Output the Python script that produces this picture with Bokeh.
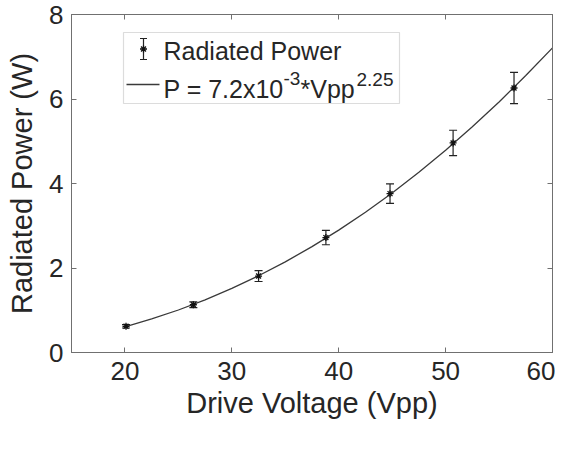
from bokeh.plotting import figure
from bokeh.models import (ColumnDataSource, Whisker, TeeHead, LinearAxis, FixedTicker,
                          Range1d, BoxAnnotation)
from bokeh.core.properties import value
from bokeh.embed import file_html
from bokeh.resources import INLINE

# ---- data ----
voltage = [20.1, 26.4, 32.5, 38.8, 44.8, 50.7, 56.4]
power = [0.62, 1.13, 1.81, 2.72, 3.76, 4.96, 6.26]
power_err = [0.04, 0.07, 0.13, 0.17, 0.23, 0.30, 0.37]

fit_v = [20, 22.5, 25, 27.5, 30, 32.5, 35, 37.5, 40, 42.5, 45, 47.5, 50, 52.5, 55, 57.5, 60]
fit_p = [0.609, 0.794, 1.006, 1.247, 1.517, 1.816, 2.146, 2.506, 2.897, 3.321,
         3.776, 4.265, 4.786, 5.342, 5.931, 6.555, 7.209]

x_ticks = [20, 30, 40, 50, 60]
y_ticks = [0, 2, 4, 6, 8]
x_label = "Drive Voltage (Vpp)"
y_label = "Radiated Power (W)"
legend_series = "Radiated Power"
legend_fit_parts = ["P = 7.2x10", "-3", "*Vpp", "2.25"]

X0, X1, Y0, Y1 = 15, 60, 0, 8
FONT = "Liberation Sans"
AXIS_COLOR = "#707070"
TEXT_COLOR = "#262626"

# frame geometry in figure pixels
W, H = 555, 435
BL, BR, BT, BB = 71, 3, 14, 83
FL, FR, FT, FB = BL, W - BR, BT, H - BB


def to_x(px):
    return X0 + (px - FL) * (X1 - X0) / (FR - FL)


def to_y(py):
    return Y1 - (py - FT) * (Y1 - Y0) / (FB - FT)


p = figure(width=W, height=H, output_backend="svg", toolbar_location=None,
           title=None, x_range=Range1d(X0, X1), y_range=Range1d(Y0, Y1),
           min_border_left=BL, min_border_right=BR, min_border_top=BT, min_border_bottom=BB)
p.xgrid.visible = False
p.ygrid.visible = False
p.outline_line_color = AXIS_COLOR
p.background_fill_color = "white"
p.border_fill_color = "white"

for ax, ticks, lab in ((p.xaxis[0], x_ticks, x_label), (p.yaxis[0], y_ticks, y_label)):
    ax.ticker = FixedTicker(ticks=ticks)
    ax.minor_tick_line_color = None
    ax.major_tick_in = 5
    ax.major_tick_out = 0
    ax.axis_line_color = AXIS_COLOR
    ax.major_tick_line_color = AXIS_COLOR
    ax.major_label_text_font = FONT
    ax.major_label_text_font_size = "26px"
    ax.major_label_text_color = TEXT_COLOR
    ax.axis_label = lab
    ax.axis_label_text_font = FONT
    ax.axis_label_text_font_size = "29px"
    ax.axis_label_text_font_style = "normal"
    ax.axis_label_text_color = TEXT_COLOR

p.xaxis[0].major_label_standoff = 9
p.xaxis[0].axis_label_standoff = 4
p.yaxis[0].major_label_standoff = 8
p.yaxis[0].axis_label_standoff = 8

for loc, ticks in (("above", x_ticks), ("right", y_ticks)):
    ax = LinearAxis(ticker=FixedTicker(ticks=ticks), major_tick_in=5, major_tick_out=0,
                    minor_tick_line_color=None, axis_line_color=AXIS_COLOR,
                    major_tick_line_color=AXIS_COLOR,
                    major_label_overrides={t: "" for t in ticks},
                    major_label_text_font_size="1px", major_label_standoff=0)
    p.add_layout(ax, loc)

# fit curve
p.line(fit_v, fit_p, line_color="#3a3a3a", line_width=1.3)

# error bars and points
src = ColumnDataSource(dict(
    x=voltage, y=power,
    upper=[v + e for v, e in zip(power, power_err)],
    lower=[v - e for v, e in zip(power, power_err)],
))
whisk = Whisker(base="x", upper="upper", lower="lower", source=src,
                line_color="#222222", line_width=1.2,
                upper_head=TeeHead(size=8, line_color="#222222", line_width=1.2),
                lower_head=TeeHead(size=8, line_color="#222222", line_width=1.2))
p.add_layout(whisk)
p.scatter("x", "y", source=src, marker="asterisk", size=7, line_color="#111111", line_width=1.3)

# ---- hand-made legend (positions in figure pixels) ----
box = BoxAnnotation(left=to_x(123), right=to_x(399), top=to_y(32), bottom=to_y(103),
                    fill_color="white", fill_alpha=1.0, line_color="#8a8a8a", line_width=1.2,
                    level="underlay")
p.add_layout(box)

ix = 143
p.segment(x0=[to_x(ix), to_x(ix - 3.5), to_x(ix - 3.5)],
          y0=[to_y(38), to_y(38), to_y(59)],
          x1=[to_x(ix), to_x(ix + 3.5), to_x(ix + 3.5)],
          y1=[to_y(59), to_y(38), to_y(59)],
          line_color="#222222", line_width=1.2)
p.scatter([to_x(ix)], [to_y(48.5)], marker="asterisk", size=7, line_color="#111111",
          line_width=1.3)
p.segment(x0=[to_x(126)], y0=[to_y(84)], x1=[to_x(159)], y1=[to_y(84)],
          line_color="#3a3a3a", line_width=1.3)

p.text(x=[to_x(163)], y=[to_y(50)], text=[legend_series], text_font=value(FONT),
       text_font_size="25px", text_color=TEXT_COLOR, text_baseline="alphabetic",
       text_align="left")

parts_x = [163, 283, 300, 356]
parts_y = [88, 78, 88, 78.5]
parts_size = ["25px", "19px", "25px", "19px"]
for s, px, py, fs in zip(legend_fit_parts, parts_x, parts_y, parts_size):
    p.text(x=[to_x(px)], y=[to_y(py)], text=[s], text_font=value(FONT),
           text_font_size=fs, text_color=TEXT_COLOR, text_baseline="alphabetic",
           text_align="left")

open("out.html", "w").write(file_html(p, INLINE))
